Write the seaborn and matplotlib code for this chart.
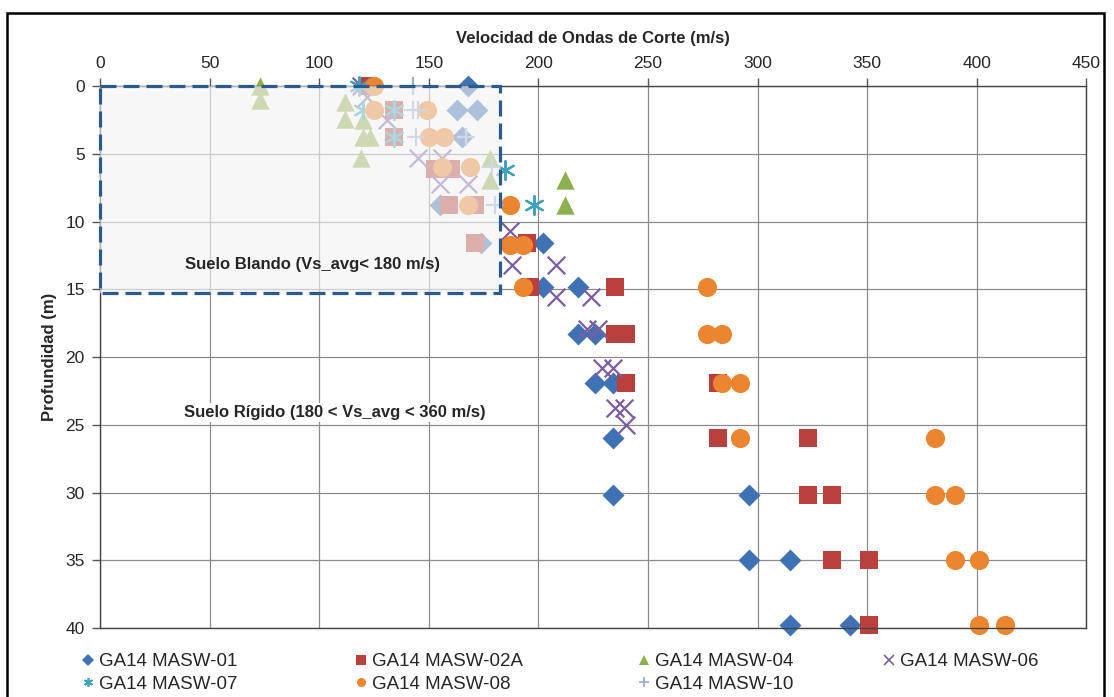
import matplotlib
matplotlib.use("Agg")
import matplotlib.pyplot as plt
import seaborn as sns
from matplotlib.lines import Line2D
from matplotlib.patches import Rectangle

# =========================
# DATA (Vs in m/s, depth in m)
# =========================

labels = ["GA14 MASW-01", "GA14 MASW-02A", "GA14 MASW-04", "GA14 MASW-06",
          "GA14 MASW-07", "GA14 MASW-08", "GA14 MASW-10"]

vs_01 = [168, 163, 172, 165, 155, 174, 202, 202, 218, 218, 226, 226, 234, 234,
         234, 296, 296, 315, 315, 342]
z_01 = [0, 1.8, 1.8, 3.8, 8.8, 11.6, 11.6, 14.8, 14.8, 18.3, 18.3, 21.9, 21.9,
        26.0, 30.2, 30.2, 35.0, 35.0, 39.8, 39.8]

vs_02a = [122, 134, 134, 153, 160, 159, 171, 171, 195, 196, 235, 235, 240, 240,
          282, 282, 323, 323, 334, 334, 351, 351]
z_02a = [0, 1.8, 3.8, 6.1, 6.1, 8.8, 8.8, 11.6, 11.6, 14.8, 14.8, 18.3, 18.3,
         21.9, 21.9, 26.0, 26.0, 30.2, 30.2, 35.0, 35.0, 39.8]

vs_04 = [73, 73, 112, 112, 120, 120, 123, 119, 178, 178, 212, 212]
z_04 = [0, 1.0, 1.2, 2.4, 2.5, 3.8, 3.8, 5.3, 5.3, 6.9, 6.9, 8.8]

vs_06 = [119, 122, 131, 145, 156, 155, 168, 187, 188, 208, 208, 224, 222, 227,
         229, 234, 235, 239, 240]
z_06 = [0, 0.8, 2.5, 5.3, 5.3, 7.2, 7.2, 10.7, 13.2, 13.2, 15.6, 15.6, 17.9,
        17.9, 20.8, 20.8, 23.8, 23.8, 25.0]

vs_07 = [118, 120, 134, 134, 185, 198]
z_07 = [0, 1.8, 1.8, 3.8, 6.2, 8.8]

vs_08 = [125, 125, 149, 150, 157, 156, 169, 168, 187, 187, 193, 193, 277, 277,
         284, 284, 292, 292, 381, 381, 390, 390, 401, 401, 413]
z_08 = [0, 1.8, 1.8, 3.8, 3.8, 6.0, 6.0, 8.8, 8.8, 11.7, 11.7, 14.8, 14.8,
        18.3, 18.3, 21.9, 21.9, 26.0, 26.0, 30.2, 30.2, 35.0, 35.0, 39.8, 39.8]

vs_10 = [143, 143, 145, 144, 167, 179, 180]
z_10 = [0, 1.8, 1.8, 3.8, 3.8, 6.0, 8.8]

soft_vs_limit = 182.6
soft_depth = 15.3

# =========================
# STYLE
# =========================

sns.set_style("white")
plt.rcParams["font.family"] = ["Liberation Sans", "DejaVu Sans"]

series = [
    (vs_01, z_01, "D", "#3F72B5", 125, True),
    (vs_02a, z_02a, "s", "#B8413D", 165, True),
    (vs_04, z_04, "^", "#8DB04E", 175, True),
    (vs_06, z_06, "x", "#7B5EA0", 160, False),
    (vs_07, z_07, (6, 2, 0), "#3FA3BE", 180, False),
    (vs_08, z_08, "o", "#EB8530", 190, True),
    (vs_10, z_10, "+", "#98ACD6", 180, False),
]

fig = plt.figure(figsize=(11.14, 6.97), dpi=100)
ax = fig.add_axes([0.0898, 0.099, 0.8853, 0.7776])

for (vs, z, mk, col, size, filled) in series:
    if filled:
        sns.scatterplot(x=vs, y=z, marker=mk, color=col, s=size, linewidth=0,
                        ax=ax, zorder=2, clip_on=False)
    else:
        sns.scatterplot(x=vs, y=z, marker=mk, color=col, s=size, linewidth=1.6,
                        ax=ax, zorder=2, clip_on=False)

# soft soil zone overlay
ax.add_patch(Rectangle((0, 0), soft_vs_limit, soft_depth, facecolor="#F3F3F3",
                       alpha=0.62, edgecolor="none", zorder=3))
ax.add_patch(Rectangle((0, 0), soft_vs_limit, soft_depth, fill=False,
                       edgecolor="#2B5A8C", linewidth=2.3,
                       linestyle=(0, (5, 2.2)), zorder=4, clip_on=False))

ax.text(97, 13.2, "Suelo Blando (Vs_avg< 180 m/s)", fontsize=12,
        fontweight="bold", ha="center", va="center", zorder=5)
ax.text(107, 24.1, "Suelo Rígido (180 < Vs_avg < 360 m/s)", fontsize=12,
        fontweight="bold", ha="center", va="center", zorder=5,
        bbox=dict(facecolor="white", edgecolor="none", pad=1.5))

# axes
ax.set_xlim(0, 450)
ax.set_ylim(40, 0)
ax.set_xticks(range(0, 451, 50))
ax.set_yticks(range(0, 41, 5))
ax.xaxis.tick_top()
ax.xaxis.set_label_position("top")
ax.set_xlabel("Velocidad de Ondas de Corte (m/s)", fontsize=12,
              fontweight="bold", labelpad=9)
ax.set_ylabel("Profundidad (m)", fontsize=12, fontweight="bold", labelpad=6)
ax.tick_params(axis="both", labelsize=12.5, length=6, width=1,
               color="#555555", pad=5, direction="out")
ax.tick_params(axis="x", top=True, bottom=False)
ax.tick_params(axis="y", left=True)
ax.set_axisbelow(True)
ax.grid(True, color="#8C8C8C", linewidth=0.9)
for sp in ax.spines.values():
    sp.set_color("#444444")
    sp.set_linewidth(1.0)

# legend (Excel-like, column per legend)
handles = []
for (vs, z, mk, col, size, filled), lab in zip(series, labels):
    if filled:
        h = Line2D([], [], linestyle="none", marker=mk, color=col,
                   markersize=6.5, markeredgewidth=0, label=lab)
    else:
        h = Line2D([], [], linestyle="none", marker=mk, color=col,
                   markersize=6.5, markeredgewidth=1.2, label=lab)
    handles.append(h)

columns = [(0.073, [0, 4]), (0.318, [1, 5]), (0.572, [2, 6]), (0.792, [3])]
for x0, idx in columns:
    fig.legend(handles=[handles[i] for i in idx], loc="upper left",
               bbox_to_anchor=(x0, 0.063), frameon=False, fontsize=13.5,
               handlelength=0.7, handletextpad=0.25, labelspacing=0.28,
               borderpad=0, borderaxespad=0)

# outer frame
fig.patches.append(Rectangle((0.0063, -0.05), 0.9847, 1.031, fill=False,
                             edgecolor="black", linewidth=1.8,
                             transform=fig.transFigure, figure=fig))

fig.savefig("out.png", dpi=100)
plt.close(fig)
